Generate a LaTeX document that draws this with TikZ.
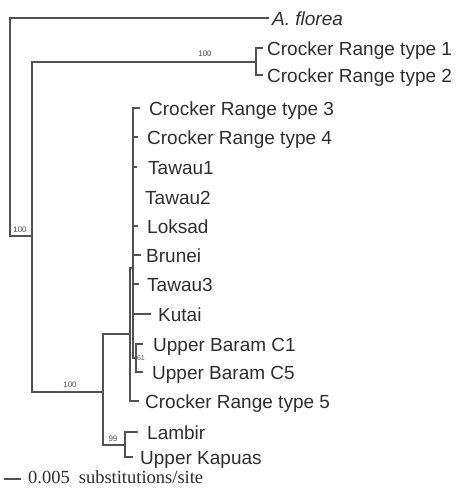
\documentclass[tikz,border=0pt]{standalone}
\usepackage{fontspec}
\setmainfont{Liberation Sans}
\newfontfamily\timesfont{Liberation Serif}
\begin{document}
\begin{tikzpicture}[x=1pt,y=-1pt,
  br/.style={line width=1.4pt, draw=black!68, line cap=rect},
  lbl/.style={anchor=base west, inner sep=0pt, text=black!82, font=\fontsize{19}{19}\selectfont},
  boot/.style={inner sep=0pt, text=black!70, font=\fontsize{8}{8}\selectfont}]
\useasboundingbox[fill=white] (0,0) rectangle (457,488);
% internal nodes
\coordinate (r)  at (10,236);
\coordinate (n1) at (32,236);
\coordinate (n2) at (256,62);
\coordinate (n3) at (103,392);
\coordinate (n4) at (125,445);
\coordinate (n5) at (130,334);
\coordinate (n6) at (133,268);
\coordinate (n7) at (136,358);
% tip ends
\coordinate (taf) at (268,18);
\coordinate (tc1) at (262,48);
\coordinate (tc2) at (262,75);
\coordinate (tc3) at (139,108);
\coordinate (tc4) at (137,137);
\coordinate (tt1) at (136,167);
\coordinate (tlo) at (137,226);
\coordinate (tbr) at (140,255);
\coordinate (tt3) at (138,284);
\coordinate (tku) at (150,314);
\coordinate (tu1) at (142,344);
\coordinate (tu5) at (142,372);
\coordinate (tc5) at (138,401);
\coordinate (tla) at (137,432);
\coordinate (tka) at (132,457);
% branches
\draw[br] (r) |- (taf);
\draw[br] (r) -- (n1);
\draw[br] (n1) |- (n2);
\draw[br] (n1) |- (n3);
\draw[br] (n2) |- (tc1);
\draw[br] (n2) |- (tc2);
\draw[br] (n3) |- (n5);
\draw[br] (n3) |- (n4);
\draw[br] (n4) |- (tla);
\draw[br] (n4) |- (tka);
\draw[br] (n5) |- (n6);
\draw[br] (n5) |- (tc5);
\draw[br] (n6) |- (tc3);
\draw[br] (n6) |- (tc4);
\draw[br] (n6) |- (tt1);
\draw[br] (n6) |- (tlo);
\draw[br] (n6) |- (tbr);
\draw[br] (n6) |- (tt3);
\draw[br] (n6) |- (tku);
\draw[br] (n6) |- (n7);
\draw[br] (n7) |- (tu1);
\draw[br] (n7) |- (tu5);
% labels
\node[lbl] (laf) at (272,25) {\itshape A. florea};
\node[lbl] (lc1) at (267,55) {Crocker Range type 1};
\node[lbl] (lc2) at (267,82) {Crocker Range type 2};
\node[lbl] (lc3) at (149,115) {Crocker Range type 3};
\node[lbl] (lc4) at (147,144) {Crocker Range type 4};
\node[lbl] (lt1) at (148,174) {Tawau1};
\node[lbl] (lt2) at (145,204) {Tawau2};
\node[lbl] (llo) at (147,233) {Loksad};
\node[lbl] (lbr) at (146,262) {Brunei};
\node[lbl] (lt3) at (147,291) {Tawau3};
\node[lbl] (lku) at (158,321) {Kutai};
\node[lbl] (lu1) at (153,351) {Upper Baram C1};
\node[lbl] (lu5) at (152,379) {Upper Baram C5};
\node[lbl] (lc5) at (145,408) {Crocker Range type 5};
\node[lbl] (lla) at (147,439) {Lambir};
\node[lbl] (lka) at (140,464) {Upper Kapuas};
% bootstrap values
\node[boot] (b1) at (205,54) {100};
\node[boot] (b2) at (20,230) {100};
\node[boot] (b3) at (70,385) {100};
\node[boot] (b4) at (113,439) {99};
\node[boot, font=\fontsize{7}{7}\selectfont] (b5) at (141,358) {61};
% scale bar
\coordinate (s0) at (5,479);
\coordinate (s1) at (20,479);
\draw[br, line width=1.2pt] (s0) -- (s1);
\node[anchor=base west, inner sep=0pt, text=black!82, font=\timesfont\fontsize{18.5}{18.5}\selectfont] (sc) at (28,483.5) {0.005\hspace{9pt}substitutions/site};
\end{tikzpicture}
\end{document}
